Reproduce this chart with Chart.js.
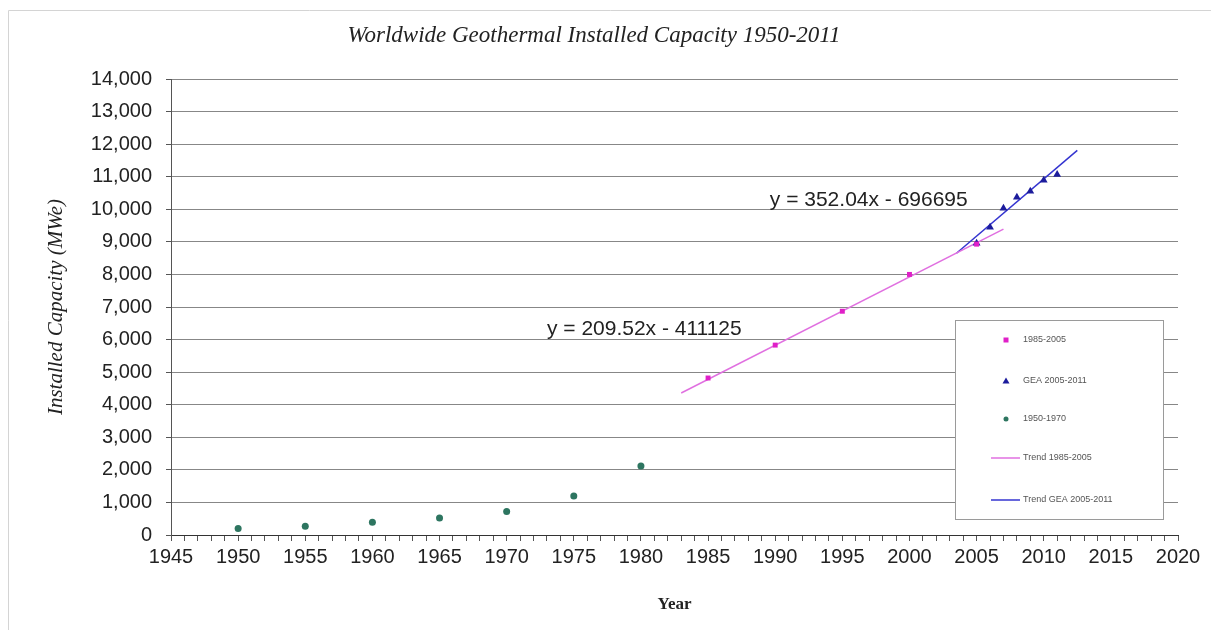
<!DOCTYPE html>
<html>
<head>
<meta charset="utf-8">
<script src="https://cdn.jsdelivr.net/npm/chart.js@4.4.0/dist/chart.umd.min.js"></script>
<style>
  html, body { margin: 0; padding: 0; background: #fff; }
</style>
</head>
<body>
<canvas id="c" width="1211" height="630"></canvas>
<script>
// values
const earlyYears = [1950, 1955, 1960, 1965, 1970, 1975, 1980];
const earlyMW    = [200, 270, 390, 520, 720, 1200, 2120];
const midYears   = [1985, 1990, 1995, 2000, 2005];
const midMW      = [4820, 5830, 6870, 8000, 8930];
const geaYears   = [2005, 2006, 2007, 2008, 2009, 2010, 2011];
const geaMW      = [8960, 9450, 10030, 10370, 10550, 10890, 11070];
// trend line ends
const trendMidYears = [1983, 2007];
const trendMidMW    = [4360, 9390];
const trendGeaYears = [2003.5, 2012.5];
const trendGeaMW    = [8650, 11810];

const xTickLabels = ['1945','1950','1955','1960','1965','1970','1975','1980','1985',
                     '1990','1995','2000','2005','2010','2015','2020'];
const yTickLabels = ['0','1,000','2,000','3,000','4,000','5,000','6,000','7,000',
                     '8,000','9,000','10,000','11,000','12,000','13,000','14,000'];
const equations = ['y = 209.52x - 411125', 'y = 352.04x - 696695'];

function pts(xs, ys) { return xs.map((x, i) => ({x: x, y: ys[i]})); }

const extras = {
  id: 'extras',
  afterDatasetsDraw(chart) {
    const ctx = chart.ctx, a = chart.chartArea;
    const xs = chart.scales.x, ys = chart.scales.y;
    ctx.save();
    // frame
    ctx.strokeStyle = '#d4d4d4';
    ctx.lineWidth = 1;
    ctx.beginPath();
    ctx.moveTo(8.5, 640); ctx.lineTo(8.5, 10.5); ctx.lineTo(1220, 10.5);
    ctx.stroke();

    // equations
    ctx.fillStyle = '#222';
    ctx.font = '21px "Liberation Sans", Arial, sans-serif';
    ctx.textBaseline = 'middle';
    ctx.textAlign = 'left';
    ctx.fillText(equations[0], xs.getPixelForValue(1973), ys.getPixelForValue(6330));
    ctx.fillText(equations[1], xs.getPixelForValue(1989.6), ys.getPixelForValue(10290));

    // legend box
    const bx = a.right - 223, by = a.bottom - 215, bw = 208, bh = 199;
    ctx.fillStyle = '#fff';
    ctx.fillRect(bx, by, bw, bh);
    ctx.strokeStyle = '#9a9a9a';
    ctx.strokeRect(bx + 0.5, by + 0.5, bw, bh);
    const rows = [20, 61, 99, 138, 180];
    ctx.font = '9px "Liberation Sans", Arial, sans-serif';
    chart.data.datasets.forEach((ds, i) => {
      const cy = by + rows[i];
      const mx = bx + 51;
      if (ds.showLine) {
        ctx.strokeStyle = ds.borderColor;
        ctx.lineWidth = 1.5;
        ctx.beginPath(); ctx.moveTo(bx + 36, cy); ctx.lineTo(bx + 65, cy); ctx.stroke();
      } else {
        ctx.fillStyle = ds.backgroundColor;
        ctx.beginPath();
        if (ds.pointStyle === 'triangle') {
          ctx.moveTo(mx, cy - 3.5); ctx.lineTo(mx + 3.5, cy + 2.5); ctx.lineTo(mx - 3.5, cy + 2.5);
        } else if (ds.pointStyle === 'rect') {
          ctx.rect(mx - 2.5, cy - 2.5, 5, 5);
        } else {
          ctx.arc(mx, cy, 2.5, 0, Math.PI * 2);
        }
        ctx.fill();
      }
      ctx.fillStyle = '#555';
      ctx.fillText(ds.label, bx + 68, cy);
    });
    ctx.restore();
  }
};

new Chart(document.getElementById('c'), {
  type: 'scatter',
  data: {
    datasets: [
      { label: '1985-2005', data: pts(midYears, midMW), pointStyle: 'rect',
        backgroundColor: '#e020c8', borderColor: '#e020c8', pointRadius: 3.5, borderWidth: 0, order: 1 },
      { label: 'GEA 2005-2011', data: pts(geaYears, geaMW), pointStyle: 'triangle',
        backgroundColor: '#1c1c9c', borderColor: '#1c1c9c', pointRadius: 4.5, borderWidth: 0, order: 1 },
      { label: '1950-1970', data: pts(earlyYears, earlyMW), pointStyle: 'circle',
        backgroundColor: '#2d7560', borderColor: '#2d7560', pointRadius: 3.5, borderWidth: 0, order: 1 },
      { label: 'Trend 1985-2005', data: pts(trendMidYears, trendMidMW), showLine: true,
        borderColor: '#e070e0', borderWidth: 1.5, pointRadius: 0, order: 2 },
      { label: 'Trend GEA 2005-2011', data: pts(trendGeaYears, trendGeaMW), showLine: true,
        borderColor: '#3434d0', borderWidth: 1.5, pointRadius: 0, order: 2 }
    ]
  },
  options: {
    responsive: false,
    animation: false,
    devicePixelRatio: 1,
    layout: { padding: { left: 10, right: 33, top: 0, bottom: 10 } },
    plugins: {
      legend: { display: false },
      tooltip: { enabled: false },
      title: {
        display: true,
        text: 'Worldwide Geothermal Installed Capacity 1950-2011',
        color: '#222',
        font: { family: '"Liberation Serif", serif', style: 'italic', size: 23, weight: 'normal' },
        padding: { top: 22, bottom: 29.4 }
      }
    },
    scales: {
      x: {
        type: 'linear', min: 1945, max: 2020,
        afterFit(s) { s.height = 85; },
        ticks: {
          stepSize: 1, autoSkip: false, maxRotation: 0, minRotation: 0, padding: 4,
          color: '#222', font: { family: '"Liberation Sans", Arial, sans-serif', size: 20 },
          callback: v => (v - 1945) % 5 === 0 ? xTickLabels[(v - 1945) / 5] : ''
        },
        grid: { drawOnChartArea: false, drawTicks: true, tickLength: 6, tickColor: '#555' },
        border: { display: true, color: '#333', width: 1 },
        title: {
          display: true, text: 'Year', color: '#222',
          font: { family: '"Liberation Serif", serif', weight: 'bold', size: 17 },
          padding: { top: 0, bottom: 5 }
        }
      },
      y: {
        min: 0, max: 14000,
        afterFit(s) { s.width = 161; },
        ticks: {
          stepSize: 1000, padding: 14, color: '#222',
          font: { family: '"Liberation Sans", Arial, sans-serif', size: 20 },
          callback: v => yTickLabels[v / 1000]
        },
        grid: { color: '#878787', lineWidth: 1, tickLength: 5, tickColor: '#555' },
        border: { display: true, color: '#555', width: 1 },
        title: {
          display: true, text: 'Installed Capacity (MWe)', color: '#222',
          font: { family: '"Liberation Serif", serif', style: 'italic', size: 21 },
          padding: { top: 34, bottom: 0 }
        }
      }
    }
  },
  plugins: [extras]
});
</script>
</body>
</html>
